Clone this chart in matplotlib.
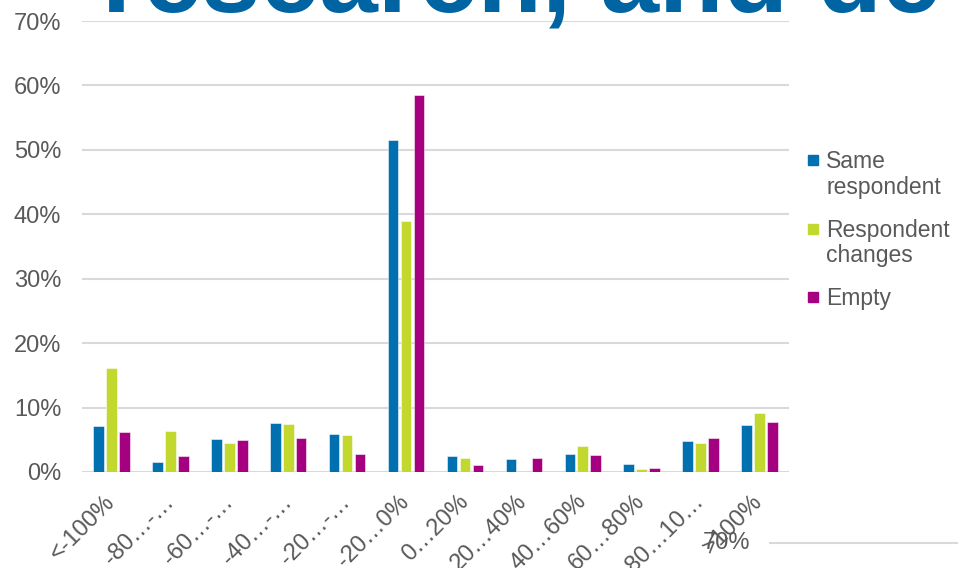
import matplotlib
matplotlib.use("Agg")
import matplotlib.pyplot as plt
from matplotlib.patches import Rectangle
import numpy as np

plt.rcParams['font.family'] = ['Liberation Sans', 'DejaVu Sans']

categories = ["<-100%", "-80…-…", "-60…-…", "-40…-…", "-20…-…", "-20…0%",
              "0…20%", "20…40%", "40…60%", "60…80%", "80…10…", ">100%"]
same = [7.1, 1.6, 5.1, 7.65, 5.95, 51.5, 2.5, 2.0, 2.75, 1.25, 4.75, 7.25]
changes = [16.1, 6.3, 4.5, 7.45, 5.7, 39.0, 2.2, 0.0, 4.0, 0.5, 4.55, 9.15]
empty = [6.2, 2.5, 4.9, 5.25, 2.8, 58.5, 1.1, 2.2, 2.6, 0.6, 5.2, 7.7]
series_names = ["Same\nrespondent", "Respondent\nchanges", "Empty"]
colors = ["#0070B0", "#C3D82E", "#A5007F"]

gray = "#595959"
grid = "#D9D9D9"
W, H = 958, 568

fig = plt.figure(figsize=(W/100, H/100), dpi=100)
ax = fig.add_axes([82/W, 1-472/H, (789-82)/W, (472-21)/H])

x = np.arange(len(categories))
w = 0.18
offs = [-0.22, 0.0, 0.22]
for vals, off, c, name in zip([same, changes, empty], offs, colors, series_names):
    ax.bar(x + off, np.array(vals)/100, w, color=c, edgecolor=(1, 1, 1, 0.6),
           linewidth=0.6, label=name, zorder=3)

ax.set_xlim(-0.5, len(categories)-0.5)
ax.set_ylim(0, 0.7)
yt = np.arange(0, 0.71, 0.1)
ax.set_yticks(yt)
ax.set_yticklabels([f"{int(round(v*100))}%" for v in yt], fontsize=17, color=gray)
ax.yaxis.grid(True, color=grid, linewidth=1.5, zorder=0)
ax.set_axisbelow(True)
for s in ax.spines.values():
    s.set_visible(False)
ax.tick_params(axis='both', length=0)
ax.tick_params(axis='y', pad=15)

ax.set_xticks(x)
ax.set_xticklabels(categories, rotation=45, ha='right', va='center',
                   rotation_mode='anchor', fontsize=17, color=gray)
ax.tick_params(axis='x', pad=19)

# legend drawn by hand: square next to the first line of each label
for i, (name, c) in enumerate(zip(series_names, colors)):
    yc = 160 + 68.5 * i
    fig.add_artist(Rectangle((808/W, 1-(yc+5)/H), 10/W, 10/H, color=c,
                             transform=fig.transFigure))
    fig.text(826/W, 1-(yc-10)/H, name, fontsize=16.5, color=gray,
             ha='left', va='top', linespacing=1.15)

# big title text cut off at the top
fig.text(102/W, 1-11/H, "research, and de", fontsize=76, fontweight='bold',
         color="#0064A2", ha='left', va='baseline')

# stray label and line at the bottom right
fig.text(703/W, 1-543/H, "70%", fontsize=17, color=gray, ha='left', va='center')
fig.add_artist(plt.Line2D([770/W, 1.0], [1-543/H, 1-543/H], color=grid,
                          linewidth=1.5, transform=fig.transFigure))

fig.savefig("out.png", dpi=100)
